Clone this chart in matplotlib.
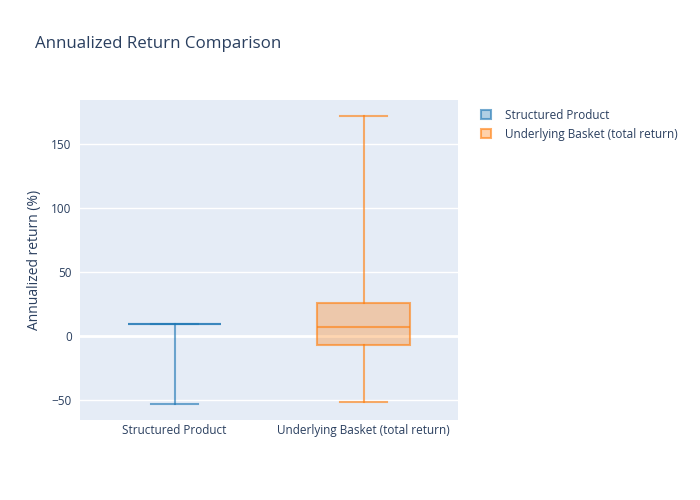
import matplotlib
matplotlib.use("Agg")
import matplotlib.pyplot as plt
from matplotlib.patches import Patch
from matplotlib.colors import to_rgba

categories = ["Structured Product", "Underlying Basket (total return)"]
whisker_low = [-53.0, -51.8]
q1 = [9.1, -7.0]
median = [9.1, 6.8]
q3 = [9.1, 25.5]
whisker_high = [9.1, 171.9]

colors = ["#1f77b4", "#ff7f0e"]
bg = "#e5ecf6"
txt = "#2a3f5f"

plt.rcParams['font.family'] = ['Open Sans', 'DejaVu Sans']

fig = plt.figure(figsize=(7, 5), dpi=100)
ax = fig.add_axes([80/700, 80/500, 378/700, 320/500])
ax.set_facecolor(bg)
for s in ax.spines.values():
    s.set_visible(False)

stats = []
for i, c in enumerate(categories):
    stats.append(dict(label=c, whislo=whisker_low[i], q1=q1[i], med=median[i],
                      q3=q3[i], whishi=whisker_high[i], fliers=[]))

ax.set_ylim(-65.6, 184.4)
ax.set_xlim(-0.5, 1.5)
ax.set_yticks([-50, 0, 50, 100, 150])
ax.set_yticklabels(["−50", "0", "50", "100", "150"])
ax.grid(axis='y', color='white', linewidth=1)
ax.axhline(0, color='white', linewidth=2, zorder=1)
ax.set_axisbelow(True)

for i, st in enumerate(stats):
    col = colors[i]
    line = to_rgba(col, 0.62)
    fill = to_rgba(col, 0.32)
    ax.bxp([st], positions=[i], widths=0.49, capwidths=0.25, patch_artist=True,
           showfliers=False,
           boxprops=dict(facecolor=fill, edgecolor=line, linewidth=1.5),
           medianprops=dict(color=line, linewidth=1.5),
           whiskerprops=dict(color=line, linewidth=1.5),
           capprops=dict(color=line, linewidth=1.5),
           manage_ticks=False, zorder=3)

ax.set_xticks([0, 1])
ax.set_xticklabels(categories)
ax.tick_params(axis='x', length=0, labelsize=8.5, colors=txt, pad=3)
ax.tick_params(axis='y', length=0, labelsize=8.5, colors=txt, pad=6)
ax.set_ylabel("Annualized return (%)", fontsize=10, color=txt, labelpad=7)

fig.text(35/700, 1-44/500, "Annualized Return Comparison", fontsize=12.2, color=txt, va='center')

handles = [Patch(facecolor=to_rgba(c, 0.35), edgecolor=to_rgba(c, 0.62), linewidth=1.5) for c in colors]
fig.legend(handles, categories, loc='upper left', bbox_to_anchor=(470/700, 1-98/500),
           frameon=False, fontsize=8.5, labelcolor=txt, handlelength=0.9, handleheight=0.9,
           handletextpad=1.2, labelspacing=0.5)

fig.savefig("out.png", dpi=100, facecolor='white')
